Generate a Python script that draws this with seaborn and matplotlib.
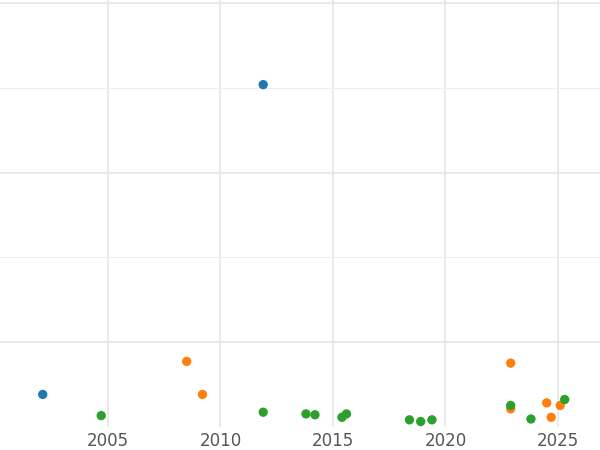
import matplotlib
matplotlib.use("Agg")
import matplotlib.pyplot as plt
import seaborn as sns
import pandas as pd

blue_x = [2011.9, 2002.1]
blue_y = [4.04, 0.38]
orange_x = [2008.5, 2009.2, 2022.9, 2022.9, 2024.5, 2024.7, 2025.1]
orange_y = [0.77, 0.38, 0.75, 0.21, 0.28, 0.11, 0.25]
green_x = [2004.7, 2011.9, 2013.8, 2014.2, 2015.4, 2015.6, 2018.4, 2018.9, 2019.4, 2022.9, 2023.8, 2025.3]
green_y = [0.13, 0.17, 0.15, 0.14, 0.11, 0.15, 0.08, 0.06, 0.08, 0.25, 0.09, 0.32]

df = pd.DataFrame({
    "x": blue_x + orange_x + green_x,
    "y": blue_y + orange_y + green_y,
    "g": ["a"] * len(blue_x) + ["b"] * len(orange_x) + ["c"] * len(green_x),
})

sns.set_style("white")
fig = plt.figure(figsize=(6, 4.5), dpi=100)
ax = fig.add_axes([0, 0.052, 1, 0.948])
sns.scatterplot(data=df, x="x", y="y", hue="g", palette=["#1f77b4", "#ff7f0e", "#2ca02c"],
                s=45, edgecolor="none", legend=False, ax=ax, zorder=3)
ax.set_xlim(2000.2, 2026.87)
ax.set_ylim(0, 5.04)
ax.set_xticks([2005, 2010, 2015, 2020, 2025])
ax.set_yticks([1, 3, 5])
ax.set_yticks([2, 4], minor=True)
ax.grid(True, which="major", color="#e6e6e6", lw=1.2)
ax.grid(True, which="minor", axis="y", color="#eeeeee", lw=0.8)
ax.tick_params(axis="y", which="both", left=False, labelleft=False)
ax.tick_params(axis="x", length=0, labelsize=12, labelcolor="#555555", pad=4)
for s in ax.spines.values():
    s.set_visible(False)
ax.set_xlabel("")
ax.set_ylabel("")
fig.savefig("out.png", dpi=100)
